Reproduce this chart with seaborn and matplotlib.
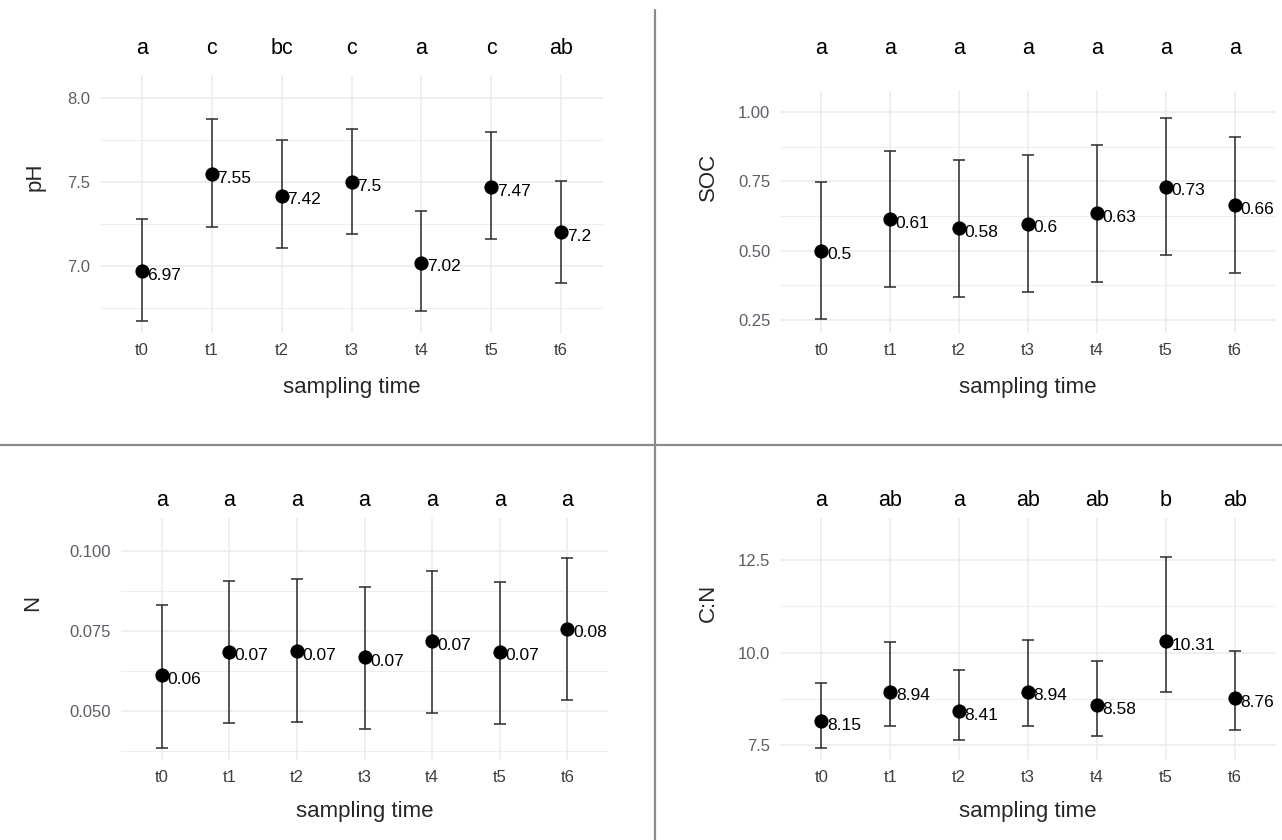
import numpy as np
import pandas as pd
import matplotlib
matplotlib.use("Agg")
import matplotlib.pyplot as plt
import matplotlib.transforms as mtransforms
from matplotlib.lines import Line2D
from matplotlib.ticker import FixedLocator, FormatStrFormatter
import seaborn as sns

# sampling times
times = ["t0", "t1", "t2", "t3", "t4", "t5", "t6"]

# pH
ph_mean = [6.97, 7.55, 7.42, 7.50, 7.02, 7.47, 7.20]
ph_low = [6.67, 7.23, 7.11, 7.19, 6.73, 7.16, 6.90]
ph_high = [7.28, 7.88, 7.75, 7.82, 7.33, 7.80, 7.51]
ph_letters = ["a", "c", "bc", "c", "a", "c", "ab"]

# soil organic carbon
soc_mean = [0.500, 0.614, 0.580, 0.597, 0.634, 0.730, 0.664]
soc_low = [0.252, 0.367, 0.331, 0.350, 0.386, 0.485, 0.419]
soc_high = [0.746, 0.857, 0.826, 0.846, 0.882, 0.976, 0.909]
soc_letters = ["a", "a", "a", "a", "a", "a", "a"]

# nitrogen
n_mean = [0.0612, 0.0685, 0.0687, 0.0669, 0.0719, 0.0685, 0.0757]
n_low = [0.0386, 0.0464, 0.0467, 0.0443, 0.0495, 0.0460, 0.0536]
n_high = [0.0831, 0.0906, 0.0911, 0.0887, 0.0938, 0.0903, 0.0979]
n_letters = ["a", "a", "a", "a", "a", "a", "a"]

# C:N ratio
cn_mean = [8.15, 8.94, 8.41, 8.94, 8.58, 10.31, 8.76]
cn_low = [7.43, 8.02, 7.64, 8.02, 7.75, 8.93, 7.91]
cn_high = [9.18, 10.29, 9.53, 10.33, 9.76, 12.57, 10.05]
cn_letters = ["a", "ab", "a", "ab", "ab", "b", "ab"]

sns.set_theme(style="whitegrid")
plt.rcParams["font.family"] = ["Liberation Sans", "DejaVu Sans"]

W, H = 1282, 840
fig = plt.figure(figsize=(W / 100, H / 100), dpi=100)


def draw_panel(box, ylabel, mean, low, high, letters, ylim, major, minor, fmt,
               ylab_pos, letter_y, xlab_y):
    left, right, top, bottom = box
    ax = fig.add_axes([left / W, 1 - bottom / H, (right - left) / W, (bottom - top) / H])
    df = pd.DataFrame({"time": times, "mean": mean, "low": low, "high": high})

    # error bars, then points
    ax.errorbar(np.arange(len(times)), df["mean"],
                yerr=[df["mean"] - df["low"], df["high"] - df["mean"]],
                fmt="none", ecolor="#2b2b2b", elinewidth=1.1, capsize=4, capthick=1.1, zorder=2)
    sns.scatterplot(data=df, x="time", y="mean", ax=ax, s=105, color="black",
                    edgecolor="black", linewidth=0, zorder=3)

    # value labels next to points
    for i, m in enumerate(mean):
        ax.annotate(f"{round(m, 2):g}", (i, m), xytext=(4, -3), textcoords="offset points",
                    ha="left", va="center", fontsize=12.5, color="black")

    # significance letters above the panel
    trans = mtransforms.blended_transform_factory(ax.transData, fig.transFigure)
    for i, lab in enumerate(letters):
        ax.text(i, 1 - letter_y / H, lab, transform=trans, ha="center", va="center",
                fontsize=15.5, color="black")

    ax.set_xlim(-0.6, len(times) - 0.4)
    ax.set_ylim(*ylim)
    ax.yaxis.set_major_locator(FixedLocator(major))
    ax.yaxis.set_minor_locator(FixedLocator(minor))
    ax.yaxis.set_major_formatter(FormatStrFormatter(fmt))
    ax.grid(which="major", color="#EBEBEB", linewidth=1.1)
    ax.grid(which="minor", axis="y", color="#EBEBEB", linewidth=0.6)
    ax.set_facecolor("white")
    for s in ax.spines.values():
        s.set_visible(False)
    ax.tick_params(axis="both", which="both", length=0, pad=7, labelsize=12)
    ax.tick_params(axis="y", labelcolor="#5a5f66")
    ax.tick_params(axis="x", labelcolor="#3d3d3d")

    ax.set_xlabel("sampling time", fontsize=16)
    ax.xaxis.label.set_va("center")
    ax.xaxis.set_label_coords(0.5, (bottom - xlab_y) / (bottom - top))
    ax.set_ylabel(ylabel, fontsize=16)
    ax.yaxis.label.set_va("center")
    ax.yaxis.label.set_ha("center")
    ax.yaxis.set_label_coords((ylab_pos[0] - left) / (right - left),
                              (bottom - ylab_pos[1]) / (bottom - top))
    return ax


draw_panel((100, 603, 75, 333), "pH", ph_mean, ph_low, ph_high, ph_letters,
           (6.60, 8.14), [7.0, 7.5, 8.0], [6.75, 7.25, 7.75], "%.1f", (35, 177), 49, 388)
draw_panel((780, 1276, 91, 333), "SOC", soc_mean, soc_low, soc_high, soc_letters,
           (0.203, 1.075), [0.25, 0.50, 0.75, 1.00], [0.375, 0.625, 0.875], "%.2f", (708, 177), 49, 388)
draw_panel((121, 608, 518, 760), "N", n_mean, n_low, n_high, n_letters,
           (0.0347, 0.1103), [0.050, 0.075, 0.100], [0.0375, 0.0625, 0.0875], "%.3f", (33, 603), 501, 812)
draw_panel((780, 1276, 518, 760), "C:N", cn_mean, cn_low, cn_high, cn_letters,
           (7.10, 13.63), [7.5, 10.0, 12.5], [8.75, 11.25], "%.1f", (708, 603), 501, 812)

# panel dividers
fig.add_artist(Line2D([655 / W, 655 / W], [0, 1 - 10 / H], color="#8a8a8a", linewidth=1.6))
fig.add_artist(Line2D([0, 1], [1 - 445 / H, 1 - 445 / H], color="#8a8a8a", linewidth=1.6))

fig.savefig("out.png", dpi=100, facecolor="white")
